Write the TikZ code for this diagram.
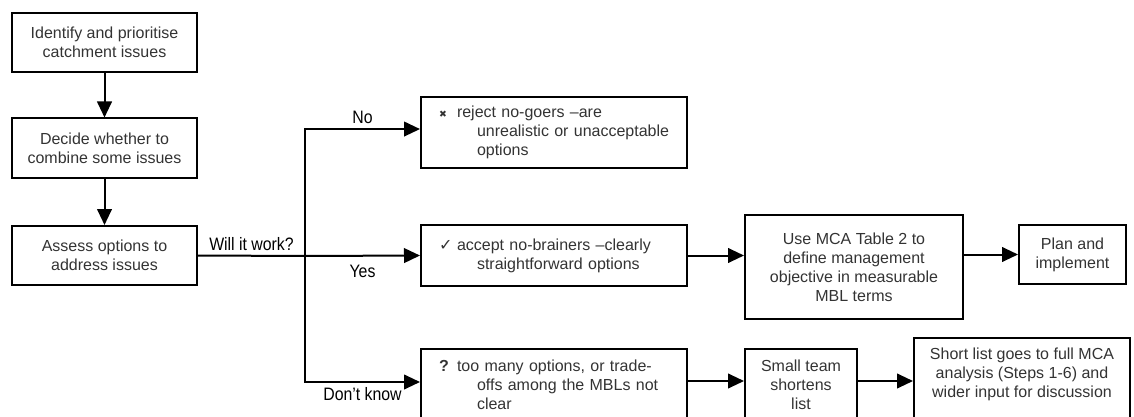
\documentclass[tikz,border=0pt]{standalone}
\usepackage{fontspec}
\setmainfont{Liberation Sans}
\newfontfamily\narrowfont[FakeStretch=0.88]{Liberation Sans}
\newfontfamily\symfont{DejaVu Sans}
\usetikzlibrary{arrows.meta}
\newcommand{\sym}[1]{\makebox[13.5pt][l]{#1}}
\newcommand{\ind}[1]{\hspace*{28.5pt}\mbox{#1}}

\begin{document}
\begin{tikzpicture}[x=0.75pt,y=-0.75pt,
    box/.style={draw, line width=1.5pt, text=black!80, align=center,
      font=\fontsize{12}{14.25}\selectfont},
    optbox/.style={box, align=left, text width=172.5pt, inner xsep=13.5pt},
    lbl/.style={font=\narrowfont\fontsize{13.5}{16}\selectfont},
    arr/.style={line width=1.5pt, -{Triangle[length=12pt,width=11pt]}},
    line/.style={line width=1.5pt}]
        \useasboundingbox (0,0) rectangle (1134,417);

        % left column
        \node[box, minimum width=138.75pt, minimum height=44.25pt] (ident)  at (104.5,42.5)  {Identify and prioritise\\catchment issues};
        \node[box, minimum width=138.75pt, minimum height=44.25pt] (decide) at (104.5,148)   {Decide whether to\\combine some issues};
        \node[box, minimum width=138.75pt, minimum height=44.25pt] (assess) at (104.5,255.5) {Assess options to\\address issues};

        % the three answers
        \node[optbox, minimum height=53.25pt] (nogo)   at (554,132.5) {\sym{\symfont\scriptsize ✖}reject no-goers –are\\\ind{unrealistic or unacceptable}\\\ind{options}};
        \node[optbox, minimum height=45.75pt] (accept) at (554,255.5) {\sym{\symfont ✓}accept no-brainers –clearly\\\ind{straightforward options}};
        \node[optbox, anchor=north, inner ysep=8pt, text depth=60pt] (unsure) at (554,348) {\sym{\textbf{?}}too many options, or trade-\\\ind{offs among the MBLs not}\\\ind{clear}};

        % follow-up steps
        \node[box, minimum width=163.5pt, minimum height=78pt] (mca)  at (854,267)    {Use MCA Table 2 to\\define management\\objective in measurable\\MBL terms};
        \node[box, minimum width=80.25pt, minimum height=44.25pt] (plan) at (1072.5,254.5) {Plan and\\implement};
        \node[box, minimum width=84pt, anchor=north, inner ysep=8pt, text depth=60pt] (team) at (801,348) {Small team\\shortens\\list};
        \node[box, minimum width=162pt, anchor=north, inner ysep=7.5pt, text depth=60pt] (shortlist) at (1022,337) {Short list goes to full MCA\\analysis (Steps 1-6) and\\wider input for discussion};

        \coordinate (split) at (305,256);

        \draw[arr] (ident) -- (decide);
        \draw[arr] (decide) -- (assess);
        \draw[line] (assess.east) -- node[lbl, above] {Will it work?} (split);
        \draw[arr] (split) -- node[lbl, below, yshift=-3pt] {Yes} (accept.west);
        \draw[arr] (split) |- node[lbl, above, pos=0.75] {No} ([yshift=2.6pt]nogo.west);
        \draw[arr] (split) |- node[lbl, below, pos=0.75] {Don’t know} ([yshift=-25.5pt]unsure.north west);
        \draw[arr] (accept.east) -- (mca.west |- accept.east);
        \draw[arr] (mca.east |- plan.west) -- (plan.west);
        \draw[arr] ([yshift=-24.75pt]unsure.north east) -- ([yshift=-24.75pt]team.north west);
        \draw[arr] ([yshift=-24.75pt]team.north east) -- ([yshift=-33pt]shortlist.north west);
\end{tikzpicture}
\end{document}
